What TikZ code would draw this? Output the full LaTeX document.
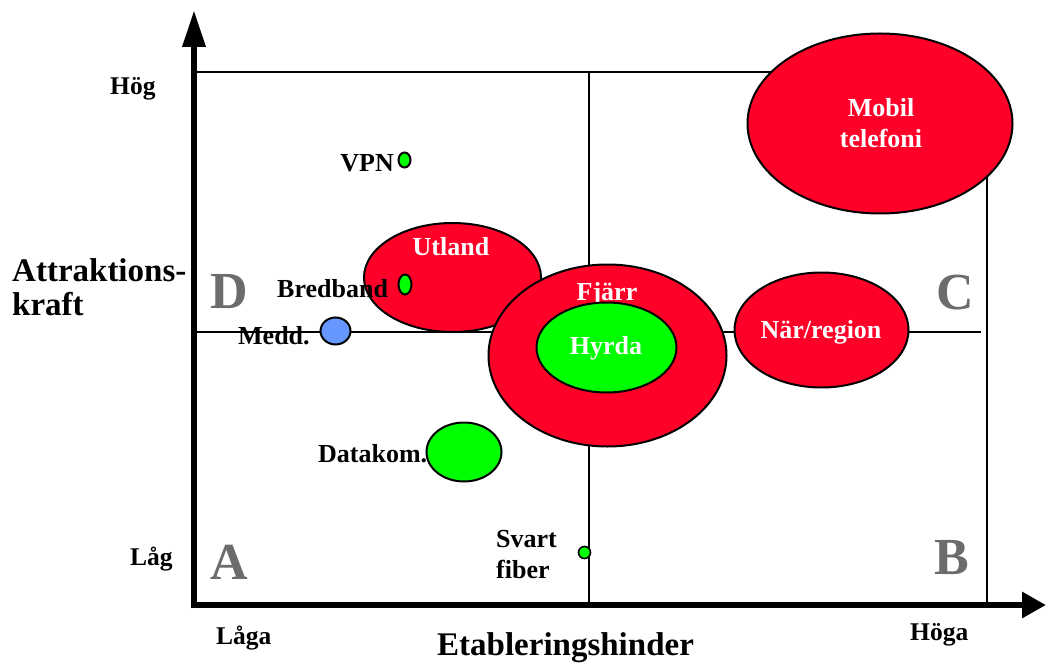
\documentclass[tikz,border=0pt]{standalone}
\usepackage{fontspec}
\setmainfont{Liberation Serif}
\usetikzlibrary{shapes.geometric,arrows.meta}
\definecolor{bubred}{RGB}{255,0,40}
\definecolor{bubgreen}{RGB}{0,255,0}
\definecolor{bubblue}{RGB}{102,150,255}
\definecolor{quadgray}{RGB}{108,108,108}
\tikzset{
  bubble/.style={ellipse, draw=black, line width=2pt, inner sep=0pt},
  grid/.style={line width=1.3pt, black},
  axis/.style={line width=6.5pt, black},
  lbl/.style={font=\bfseries\fontsize{26}{29}\selectfont, inner sep=0pt, text=black},
  tick/.style={font=\bfseries\fontsize{25.5}{28}\selectfont, inner sep=0pt, text=black},
  wlbl/.style={font=\bfseries\fontsize{26}{30}\selectfont, inner sep=0pt, text=white},
  big/.style={font=\bfseries\fontsize{33}{38}\selectfont, inner sep=0pt, text=black},
  quad/.style={font=\bfseries\fontsize{52}{56}\selectfont, inner sep=0pt, text=quadgray},
}
\begin{document}
\begin{tikzpicture}[x=1pt,y=-1pt]
\useasboundingbox (0,0) rectangle (1046,663);
% grid coordinates
\coordinate (tl) at (194,72);
\coordinate (tr) at (987,72);
\coordinate (br) at (987,608);
\coordinate (mt) at (589,72);
\coordinate (mb) at (589,608);
\coordinate (ml) at (194,332);
\coordinate (mr) at (981,332);
\draw[grid] (tl) -- (tr) -- (br);
\draw[grid] (mt) -- (mb);
\draw[grid] (ml) -- (mr);

% Utland
\node[bubble, fill=bubred, minimum width=177pt, minimum height=109pt] (utland) at (452.5,277.5) {};
\node[wlbl, anchor=base] (utlandlbl) at (451,255) {Utland};
\node[lbl, anchor=base west] (bredbandlbl) at (277,297) {Bredband};
\node[bubble, fill=bubgreen, minimum width=13pt, minimum height=20pt] (bredband) at (405,284.5) {};

% VPN
\node[lbl, anchor=base east] (vpnlbl) at (394,172) {VPN};
\node[bubble, fill=bubgreen, minimum width=12pt, minimum height=15pt] (vpn) at (404.5,160) {};

% Medd.
\node[lbl, anchor=base west] (meddlbl) at (238,344) {Medd.};
\node[bubble, fill=bubblue, minimum width=30pt, minimum height=27pt] (medd) at (335.5,331) {};

% Fjarr / Hyrda
\node[bubble, fill=bubred, minimum width=238pt, minimum height=182pt] (fjarr) at (607.5,355.5) {};
\node[wlbl, anchor=base] (fjarrlbl) at (607,300) {Fjärr};
\node[bubble, fill=bubgreen, minimum width=140pt, minimum height=90pt] (hyrda) at (606.5,347.5) {};
\node[wlbl, anchor=base] (hyrdalbl) at (606,354) {Hyrda};

% Nar/region
\node[bubble, fill=bubred, minimum width=174pt, minimum height=115pt] (nar) at (821.5,330) {};
\node[wlbl, anchor=base] (narlbl) at (821,338) {När/region};

% Mobil telefoni
\node[bubble, fill=bubred, minimum width=265pt, minimum height=180pt] (mobil) at (880,123.5) {};
\node[wlbl, anchor=base] (mobillbl1) at (881,117) {Mobil};
\node[wlbl, anchor=base] (mobillbl2) at (881,148) {telefoni};

% Datakom.
\node[lbl, anchor=base west] (datakomlbl) at (318,462) {Datakom.};
\node[bubble, fill=bubgreen, minimum width=75pt, minimum height=59pt] (datakom) at (464,452) {};

% Svart fiber
\node[lbl, anchor=base west] (svartlbl) at (496,547) {Svart};
\node[lbl, anchor=base west] (fiberlbl) at (496,578) {fiber};
\node[bubble, fill=bubgreen, line width=1.6pt, minimum width=12pt, minimum height=12pt] (svart) at (584.5,552.5) {};

% quadrant letters
\node[quad, anchor=base] (qD) at (229,308) {D};
\node[quad, anchor=base] (qC) at (955,309) {C};
\node[quad, anchor=base] (qA) at (229.5,579) {A};
\node[quad, anchor=base] (qB) at (951.5,574) {B};

% axes
\coordinate (yb) at (194,608);
\coordinate (yt) at (194,10);
\coordinate (xl) at (191,605);
\coordinate (xr) at (1046,605);
\draw[axis, -{Triangle[length=37pt,width=22pt]}] (yb) -- (yt);
\draw[axis, -{Triangle[length=24pt,width=25pt]}] (xl) -- (xr);

% axis labels
\node[tick, anchor=base west] (hog) at (110,95) {Hög};
\node[tick, anchor=base west] (lag) at (130,565) {Låg};
\node[tick, anchor=base west] (laga) at (216,644) {Låga};
\node[tick, anchor=base west] (hoga) at (910,640) {Höga};
\node[big, anchor=base west] (attr1) at (12,281) {Attraktions-};
\node[big, anchor=base west] (attr2) at (12,315) {kraft};
\node[big, anchor=base west] (etab) at (437,655) {Etableringshinder};
\end{tikzpicture}
\end{document}
